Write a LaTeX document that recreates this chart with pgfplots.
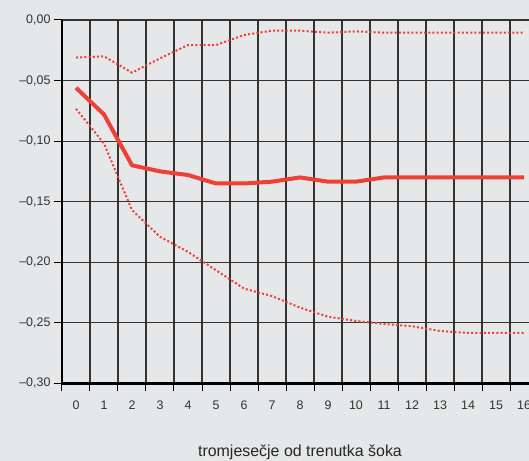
\documentclass[border=0pt]{standalone}
\usepackage{pgfplots}
\pgfplotsset{compat=1.18}
\usepackage{fontspec}
\setmainfont{Liberation Sans}
\definecolor{bg}{HTML}{E6E7E9}
\definecolor{lred}{HTML}{EE4036}
\begin{document}
\begin{tikzpicture}
\path[fill=bg, use as bounding box] (-62bp,-77.7bp) rectangle (467bp,383.3bp);
\begin{axis}[
 at={(0,0)}, anchor=south west,
 scale only axis, width=476bp, height=363.3bp,
 xmin=-0.5, xmax=16.5, ymin=-0.30, ymax=0,
 axis x line*=bottom, axis y line*=left,
 axis line style={-, line width=2.4bp, black},
 xtick={-0.5,0.5,1.5,2.5,3.5,4.5,5.5,6.5,7.5,8.5,9.5,10.5,11.5,12.5,13.5,14.5,15.5,16.5},
 xticklabels={},
 extra x ticks={0,1,2,3,4,5,6,7,8,9,10,11,12,13,14,15,16},
 extra x tick labels={0,1,2,3,4,5,6,7,8,9,10,11,12,13,14,15,16},
 extra x tick style={grid=none, major tick length=0pt},
 ytick={-0.3,-0.25,-0.2,-0.15,-0.1,-0.05,0},
 yticklabels={{–0,30},{–0,25},{–0,20},{–0,15},{–0,10},{–0,05},{0,00}},
 grid=major, major grid style={draw=black!80, line width=1.2bp},
 tick align=outside, major tick length=8bp, tick style={black, line width=1bp},
 ticklabel style={font=\fontsize{12.5}{14}\selectfont, text=black!80},
 xticklabel style={yshift=-14bp},
 xlabel={tromjesečje od trenutka šoka},
 xlabel style={font=\fontsize{16}{18}\selectfont, text=black!85, yshift=-20bp},
]
\addplot[lred, line width=4bp, line join=round] coordinates {
(0,-0.056) (1,-0.078) (2,-0.12) (3,-0.125) (4,-0.128) (5,-0.135) (6,-0.135) (7,-0.1335) (8,-0.130) (9,-0.1335) (10,-0.1335) (11,-0.130) (12,-0.130) (13,-0.130) (14,-0.130) (15,-0.130) (16,-0.130)};
\addplot[lred, line width=2bp, dash pattern=on 2bp off 2.2bp] coordinates {
(0,-0.031) (1,-0.030) (2,-0.0435) (3,-0.0317) (4,-0.0207) (5,-0.0207) (6,-0.0124) (7,-0.0088) (8,-0.0088) (9,-0.0105) (10,-0.0094) (11,-0.0105) (12,-0.0105) (13,-0.0105) (14,-0.0105) (15,-0.0105) (16,-0.0105)};
\addplot[lred, line width=2bp, dash pattern=on 2bp off 2.2bp] coordinates {
(0,-0.0733) (1,-0.102) (2,-0.157) (3,-0.179) (4,-0.1915) (5,-0.2066) (6,-0.2218) (7,-0.228) (8,-0.2375) (9,-0.245) (10,-0.2485) (11,-0.251) (12,-0.2529) (13,-0.2568) (14,-0.2584) (15,-0.2584) (16,-0.2584)};
\end{axis}
\end{tikzpicture}
\end{document}
